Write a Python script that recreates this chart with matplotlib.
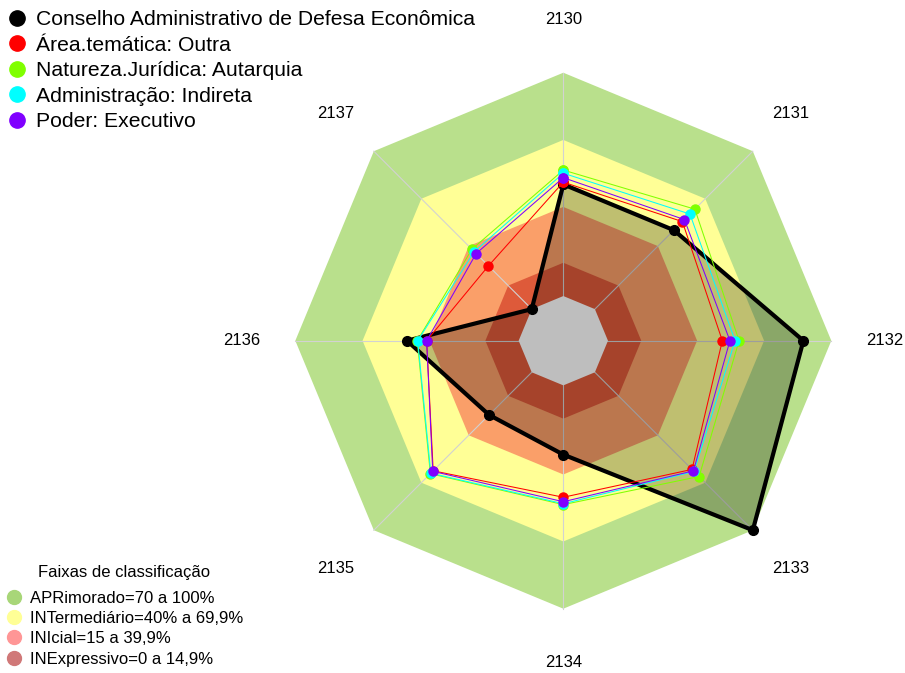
import numpy as np
import matplotlib.pyplot as plt
from matplotlib.lines import Line2D

plt.rcParams['font.family'] = ['Liberation Sans', 'DejaVu Sans']

eixos = ['2130', '2131', '2132', '2133', '2134', '2135', '2136', '2137']

nomes = ['Conselho Administrativo de Defesa Econômica',
         'Área.temática: Outra',
         'Natureza.Jurídica: Autarquia',
         'Administração: Indireta',
         'Poder: Executivo']
cores = ['#000000', '#FF0000', '#80FF00', '#00FFFF', '#8000FF']

cade = [50, 50, 87.5, 100, 31, 27, 50, 0]
outra = [51, 55.4, 51.2, 61.5, 50.1, 62.4, 41.2, 27.4]
autarquia = [56.4, 63.3, 58.7, 66, 53.4, 64.2, 45.4, 37.9]
indireta = [55, 60.2, 56.9, 62.8, 53, 63.9, 45.2, 36.4]
executivo = [53, 56.7, 54.6, 62.4, 52.1, 62.7, 41.2, 35.2]
series = [cade, outra, autarquia, indireta, executivo]

# faixas de classificacao
faixas_lim = [100, 69.9, 39.9, 14.9]
faixas_cor = ['#B9E08C', '#FFFF96', '#FA9F69', '#DE5A3A']
faixas_nome = ['APRimorado=70 a 100%', 'INTermediário=40% a 69,9%',
               'INIcial=15 a 39,9%', 'INExpressivo=0 a 14,9%']
faixas_leg = ['#A8D678', '#FFFF96', '#FF9696', '#D07878']

theta = np.deg2rad(90 - 45 * np.arange(len(eixos)))


def xy(vals):
    # centro com deslocamento de 1/6 como no fmsb (seg=5)
    r = 1 / 6 + 5 / 6 * np.asarray(vals, dtype=float) / 100
    x = r * np.cos(theta)
    y = r * np.sin(theta)
    return np.append(x, x[0]), np.append(y, y[0])


fig = plt.figure(figsize=(9.05, 6.73), dpi=100)
ax = fig.add_axes([0.2523, -0.0040, 0.7403, 0.9955])
ax.set_xlim(-1.25, 1.25)
ax.set_ylim(-1.25, 1.25)
ax.axis('off')

for lim, c in zip(faixas_lim, faixas_cor):
    ax.fill(*xy([lim] * 8), color=c, lw=0, zorder=1)

for t in theta:
    ax.plot([0, np.cos(t)], [0, np.sin(t)], color='#D2D2D2', lw=0.8, zorder=2)

ax.fill(*xy(cade), color='black', alpha=0.25, lw=0, zorder=3)
ax.fill(*xy([0] * 8), color='#BEBEBE', lw=0, zorder=4)

for i, (vals, c) in enumerate(zip(series, cores)):
    x, y = xy(vals)
    if i == 0:
        ax.plot(x, y, color=c, lw=3, marker='o', ms=7, zorder=5)
    else:
        ax.plot(x, y, color=c, lw=0.75, marker='o', ms=6.5, zorder=5 + i)

for t, nome in zip(theta, eixos):
    ax.text(1.2 * np.cos(t), 1.2 * np.sin(t), nome, ha='center', va='center',
            fontsize=12, clip_on=False)

h1 = [Line2D([], [], ls='', marker='o', ms=11, color=c) for c in cores]
fig.legend(h1, nomes, loc='upper left', bbox_to_anchor=(0.007, 0.985),
           frameon=False, fontsize=15.2, handlelength=1, handletextpad=0.4,
           labelspacing=0.31, borderpad=0, borderaxespad=0)

h2 = [Line2D([], [], ls='', marker='o', ms=10, color=c) for c in faixas_leg]
fig.legend(h2, faixas_nome, loc='lower left', bbox_to_anchor=(0.0063, 0.0095),
           frameon=False, fontsize=12, handlelength=1, handletextpad=0.45,
           labelspacing=0.32, borderpad=0, borderaxespad=0)
fig.text(0.1375, 1 - 572 / 673, 'Faixas de classificação', fontsize=12,
         ha='center', va='center')

fig.savefig('out.png', dpi=100)
